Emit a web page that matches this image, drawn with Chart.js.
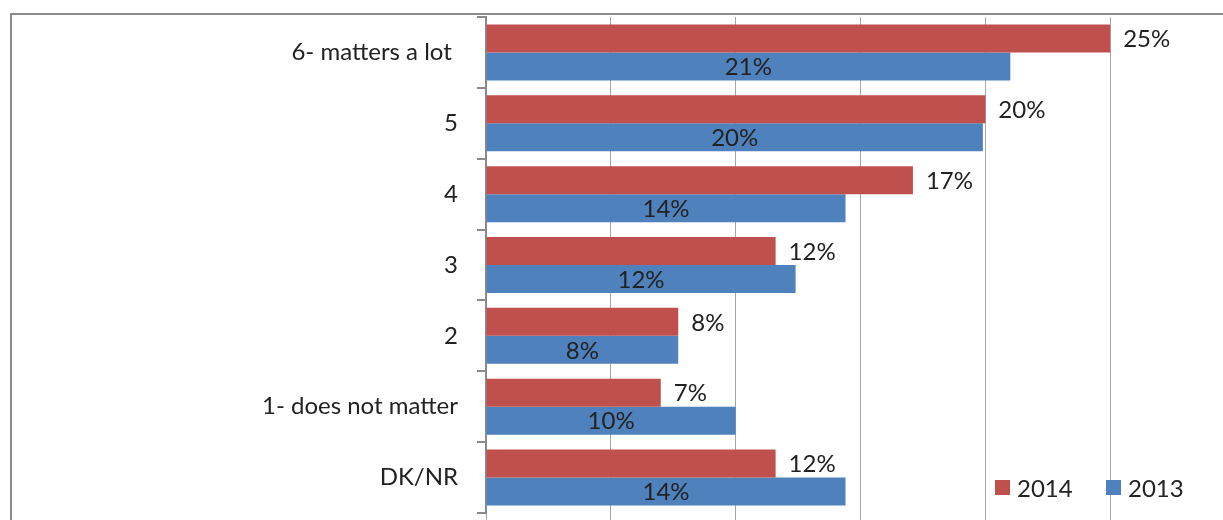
<!DOCTYPE html>
<html>
<head>
<meta charset="utf-8">
<script src="https://cdn.jsdelivr.net/npm/chart.js@4/dist/chart.umd.min.js"></script>
<style>
  html, body { margin: 0; padding: 0; background: #fff; overflow: hidden; }
  #wrap { position: absolute; left: 0; top: 0; width: 1260px; height: 520px; }
</style>
</head>
<body>
<div id="wrap"><canvas id="chart" width="1260" height="520"></canvas></div>
<script>
// datos
const categories = ['6- matters a lot ', '5', '4', '3', '2', '1- does not matter', 'DK/NR'];
const seriesNames = ['2014', '2013'];
const values2014 = [25, 20, 17.1, 11.6, 7.7, 7.0, 11.6];
const values2013 = [21, 19.9, 14.4, 12.4, 7.7, 10, 14.4];
const xTicks = [0, 5, 10, 15, 20, 25, 30];

const FONT = 'Lato, "Open Sans", sans-serif';

/* marco del grafico (recortado a la derecha y abajo) */
const frame = {
  id: 'frame',
  beforeDraw(chart) {
    const ctx = chart.ctx;
    ctx.save();
    ctx.fillStyle = '#fff';
    ctx.fillRect(0, 0, chart.width, chart.height);
    ctx.strokeStyle = '#8a8a8a';
    ctx.lineWidth = 2;
    ctx.beginPath();
    ctx.moveTo(11, chart.height);
    ctx.lineTo(11, 14);
    ctx.lineTo(chart.width, 14);
    ctx.stroke();
    ctx.restore();
  }
};

/* etiquetas de valor: 2014 fuera, 2013 centrada */
const valueLabels = {
  id: 'valueLabels',
  afterDatasetsDraw(chart) {
    const ctx = chart.ctx;
    ctx.save();
    ctx.font = '24px ' + FONT;
    ctx.fillStyle = '#222';
    ctx.textBaseline = 'middle';
    chart.data.datasets.forEach((ds, i) => {
      const meta = chart.getDatasetMeta(i);
      meta.data.forEach((bar, j) => {
        const txt = Math.round(ds.data[j]) + '%';
        if (i === 0) {
          ctx.textAlign = 'left';
          ctx.fillText(txt, bar.x + 13, bar.y + 1);
        } else {
          ctx.textAlign = 'center';
          ctx.fillText(txt, (bar.x + bar.base) / 2, bar.y + 1);
        }
      });
    });
    ctx.restore();
  }
};

/* leyenda abajo a la derecha, dentro del area */
const cornerLegend = {
  id: 'cornerLegend',
  afterDraw(chart) {
    const ctx = chart.ctx;
    const spots = [995, 1106];
    ctx.save();
    ctx.font = '24px ' + FONT;
    ctx.textBaseline = 'middle';
    ctx.textAlign = 'left';
    chart.data.datasets.forEach((ds, i) => {
      ctx.fillStyle = ds.backgroundColor;
      ctx.fillRect(spots[i], 480, 15, 15);
      ctx.fillStyle = '#222';
      ctx.fillText(ds.label, spots[i] + 22, 489);
    });
    ctx.restore();
  }
};

document.addEventListener('DOMContentLoaded', () => {
  const ctx = document.getElementById('chart').getContext('2d');
  new Chart(ctx, {
    type: 'bar',
    data: {
      labels: categories,
      datasets: [
        { label: seriesNames[0], data: values2014, backgroundColor: '#C0504D' },
        { label: seriesNames[1], data: values2013, backgroundColor: '#4F81BD' }
      ]
    },
    options: {
      indexAxis: 'y',
      responsive: false,
      animation: false,
      categoryPercentage: 0.79,
      barPercentage: 1.0,
      layout: { padding: { top: 17, right: 25, left: 0, bottom: 0 } },
      plugins: {
        legend: { display: false },
        tooltip: { enabled: false }
      },
      scales: {
        x: {
          min: xTicks[0],
          max: xTicks[xTicks.length - 1],
          afterBuildTicks: (scale) => { scale.ticks = xTicks.map(v => ({ value: v })); },
          afterFit: (scale) => {
            scale.height = 7;
            scale.paddingLeft = 0;
            scale.paddingRight = 0;
          },
          ticks: { display: false },
          grid: { color: '#a6a6a6', lineWidth: 1, tickLength: 7 },
          border: { display: false }
        },
        y: {
          afterFit: (scale) => {
            scale.width = 486;
            scale.paddingTop = 0;
            scale.paddingBottom = 0;
          },
          ticks: {
            color: '#222',
            font: { family: FONT, size: 24 },
            padding: 19
          },
          grid: { drawOnChartArea: false, color: '#8a8a8a', tickLength: 9, lineWidth: 2 },
          border: { color: '#8a8a8a', width: 2 }
        }
      }
    },
    plugins: [frame, valueLabels, cornerLegend]
  });
});
</script>
</body>
</html>
